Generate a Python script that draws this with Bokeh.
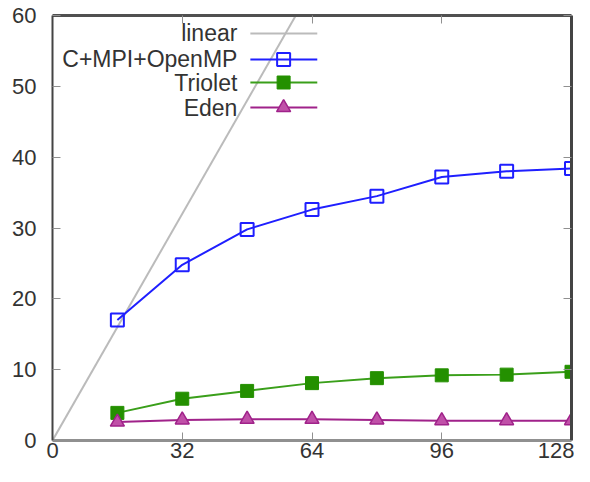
from bokeh.plotting import figure
from bokeh.models import Range1d, FixedTicker, LinearAxis
from bokeh.core.properties import value
from bokeh.embed import file_html
from bokeh.resources import INLINE

# ---- data ----
cores = [16, 32, 48, 64, 80, 96, 112, 128]
mpi_openmp = [17.0, 24.8, 29.8, 32.6, 34.5, 37.2, 38.0, 38.4]
triolet = [3.9, 5.9, 7.0, 8.1, 8.8, 9.2, 9.3, 9.7]
eden = [2.6, 2.9, 3.0, 3.0, 2.9, 2.8, 2.8, 2.8]
linear_x = [0, 128]
linear_y = [0, 128]
x_ticks = [0, 32, 64, 96, 128]
y_ticks = [0, 10, 20, 30, 40, 50, 60]
series_names = ["linear", "C+MPI+OpenMP", "Triolet", "Eden"]

FONT = "Liberation Sans"
TXT = "#333333"
BLUE = "#1f1fff"
GREEN_L = "#3a9f1a"
GREEN_M = "#249000"
PURP_L = "#a0228a"
PURP_F = "#c050a8"
GRAY = "#bbbbbb"

p = figure(width=574, height=466, output_backend="svg", toolbar_location=None,
           x_range=Range1d(0, 128), y_range=Range1d(0, 60),
           min_border_left=52, min_border_right=3, min_border_top=15, min_border_bottom=26,
           x_axis_location=None, y_axis_location=None)
p.grid.visible = False
p.outline_line_color = None
p.background_fill_color = "white"

def style_axis(ax, ticks, line_color, line_width, labels=True):
    ax.ticker = FixedTicker(ticks=ticks)
    ax.axis_line_color = line_color
    ax.axis_line_width = line_width
    ax.major_tick_in = 8
    ax.major_tick_out = 0
    ax.major_tick_line_color = "#909090"
    ax.major_tick_line_width = 1
    ax.minor_tick_line_color = None
    if labels:
        ax.major_label_text_font = FONT
        ax.major_label_text_font_size = "22px"
        ax.major_label_text_color = TXT
    else:
        ax.major_label_overrides = {t: "" for t in ticks}
        ax.major_label_text_font_size = "1px"
        ax.major_label_standoff = 0

bottom = LinearAxis()
left = LinearAxis()
top = LinearAxis()
right = LinearAxis()
p.add_layout(bottom, "below")
p.add_layout(left, "left")
p.add_layout(top, "above")
p.add_layout(right, "right")
style_axis(bottom, x_ticks, "#909090", 3)
style_axis(left, y_ticks, "#444444", 2)
style_axis(top, x_ticks, "#505050", 3, labels=False)
style_axis(right, y_ticks, "#444444", 3, labels=False)
bottom.major_label_standoff = 2
left.major_label_standoff = 16

# ---- series ----
p.line(linear_x, linear_y, line_color=GRAY, line_width=2)
p.line(cores, mpi_openmp, line_color=BLUE, line_width=2)
p.scatter(cores, mpi_openmp, marker="square", size=13, fill_color=None,
          line_color=BLUE, line_width=2)
p.line(cores, triolet, line_color=GREEN_L, line_width=2)
p.scatter(cores, triolet, marker="square", size=13, fill_color=GREEN_M,
          line_color=GREEN_M, line_width=1)
p.line(cores, eden, line_color=PURP_L, line_width=2)
p.scatter(cores, eden, marker="triangle", size=14, fill_color=PURP_F,
          line_color=PURP_L, line_width=1.5)

# ---- legend (gnuplot style: text left, sample right) ----
leg_text_x = 45.6
leg_x0, leg_x1, leg_xm = 48.8, 65.3, 57.0
leg_rows = [57.46, 53.79, 50.54, 47.0]
p.text(x=[leg_text_x] * 4, y=leg_rows, text=series_names,
       text_align="right", text_baseline="middle",
       text_font=value(FONT), text_font_size="23px", text_color=TXT)
styles = [(GRAY, None), (BLUE, "sq_open"), (GREEN_L, "sq_fill"), (PURP_L, "tri")]
for (col, mk), yy in zip(styles, leg_rows):
    p.line([leg_x0, leg_x1], [yy, yy], line_color=col, line_width=2)
    if mk == "sq_open":
        p.scatter([leg_xm], [yy], marker="square", size=13, fill_color=None,
                  line_color=BLUE, line_width=2)
    elif mk == "sq_fill":
        p.scatter([leg_xm], [yy], marker="square", size=13, fill_color=GREEN_M,
                  line_color=GREEN_M)
    elif mk == "tri":
        p.scatter([leg_xm], [yy], marker="triangle", size=14, fill_color=PURP_F,
                  line_color=PURP_L, line_width=1.5)

open("out.html", "w").write(file_html(p, INLINE))
